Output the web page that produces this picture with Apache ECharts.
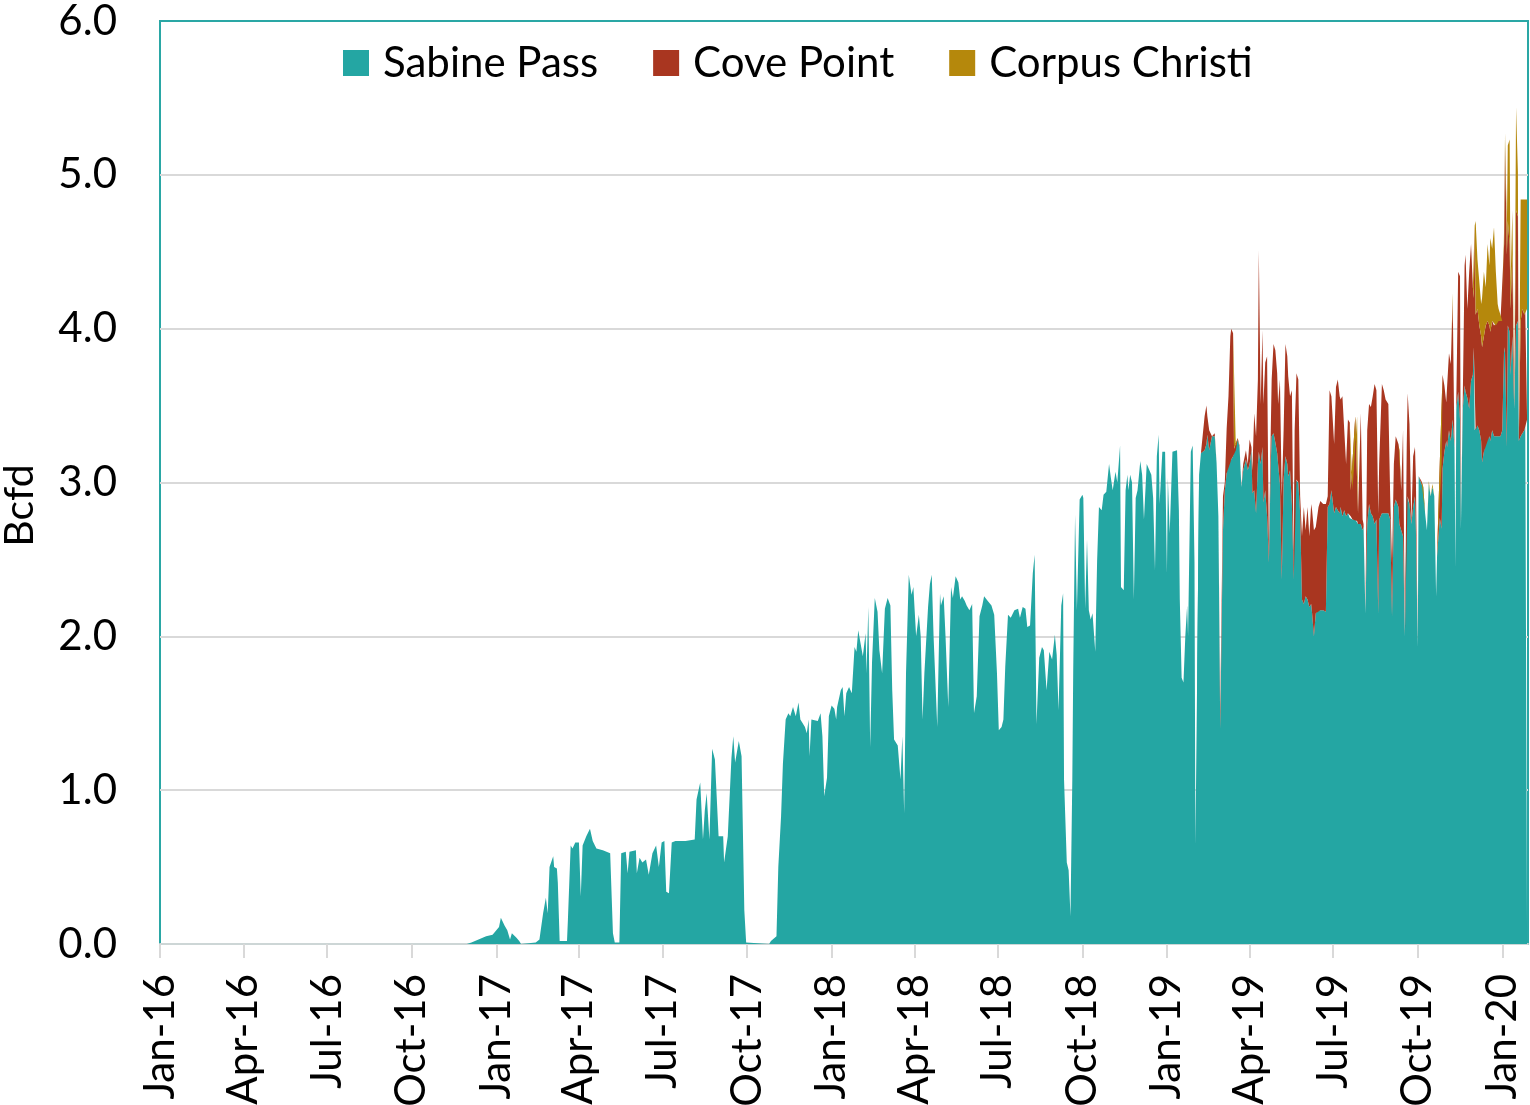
<!DOCTYPE html>
<html>
<head>
<meta charset="utf-8">
<script src="https://cdn.jsdelivr.net/npm/echarts@6/dist/echarts.min.js"></script>
<style>
html,body{margin:0;padding:0;background:#ffffff;}
#chart{width:1530px;height:1105px;}
</style>
</head>
<body>
<div id="chart"></div>
<script>
// ---------- tick labels (quarter starts) ----------
const tickLabels = ["Jan-16","Apr-16","Jul-16","Oct-16","Jan-17","Apr-17","Jul-17","Oct-17",
  "Jan-18","Apr-18","Jul-18","Oct-18","Jan-19","Apr-19","Jul-19","Oct-19","Jan-20"];

// ---------- Sabine Pass only period (Bcfd) ----------
const earlyDates = [
"2016-01-01","2016-11-30","2016-12-05","2016-12-21","2016-12-28","2017-01-04","2017-01-06","2017-01-10","2017-01-13","2017-01-16",
"2017-01-18","2017-01-23","2017-01-26","2017-01-28","2017-02-13","2017-02-17","2017-02-21","2017-02-24","2017-02-26","2017-02-28",
"2017-03-04","2017-03-05","2017-03-08","2017-03-09","2017-03-11","2017-03-19","2017-03-20","2017-03-23","2017-03-25","2017-03-28",
"2017-04-01","2017-04-03","2017-04-05","2017-04-09","2017-04-13","2017-04-16","2017-04-20","2017-04-27","2017-05-05","2017-05-08",
"2017-05-10","2017-05-15","2017-05-17","2017-05-22","2017-05-24","2017-05-26","2017-06-02","2017-06-03","2017-06-06","2017-06-09",
"2017-06-13","2017-06-16","2017-06-20","2017-06-24","2017-06-27","2017-06-30","2017-07-03","2017-07-05","2017-07-08","2017-07-11",
"2017-07-15","2017-07-26","2017-08-05","2017-08-07","2017-08-11","2017-08-14","2017-08-16","2017-08-18","2017-08-21","2017-08-24",
"2017-08-27","2017-08-29","2017-08-31","2017-09-05","2017-09-06","2017-09-10","2017-09-14","2017-09-16","2017-09-18","2017-09-22",
"2017-09-25","2017-09-28","2017-09-30","2017-10-02","2017-10-25","2017-10-27","2017-11-02","2017-11-04","2017-11-07","2017-11-09",
"2017-11-12","2017-11-15","2017-11-17","2017-11-20","2017-11-23","2017-11-26","2017-11-28","2017-12-03","2017-12-05","2017-12-07",
"2017-12-08","2017-12-10","2017-12-17","2017-12-20","2017-12-22","2017-12-24","2017-12-27","2017-12-29","2018-01-01","2018-01-04",
"2018-01-06","2018-01-07","2018-01-11","2018-01-13","2018-01-15","2018-01-17","2018-01-20","2018-01-23","2018-01-26","2018-01-28",
"2018-01-30","2018-02-04","2018-02-07","2018-02-08","2018-02-10","2018-02-12","2018-02-14","2018-02-17","2018-02-20","2018-02-22",
"2018-02-25","2018-02-28","2018-03-03","2018-03-06","2018-03-08","2018-03-10","2018-03-14","2018-03-17","2018-03-19","2018-03-21",
"2018-03-23","2018-03-26","2018-03-29","2018-03-31","2018-04-03","2018-04-06","2018-04-08","2018-04-10","2018-04-12","2018-04-16",
"2018-04-18","2018-04-20","2018-04-22","2018-04-26","2018-04-29","2018-04-30","2018-05-03","2018-05-05","2018-05-08","2018-05-11",
"2018-05-13","2018-05-16","2018-05-19","2018-05-21","2018-05-23","2018-05-26","2018-05-28","2018-05-31","2018-06-03","2018-06-05",
"2018-06-08","2018-06-11","2018-06-14","2018-06-16","2018-06-20","2018-06-24","2018-06-27","2018-06-30","2018-07-02","2018-07-05",
"2018-07-07","2018-07-09","2018-07-12","2018-07-15","2018-07-19","2018-07-23","2018-07-25","2018-07-28","2018-07-31","2018-08-02",
"2018-08-05","2018-08-08","2018-08-10","2018-08-12","2018-08-15","2018-08-18","2018-08-20","2018-08-23","2018-08-26","2018-08-29",
"2018-09-01","2018-09-03","2018-09-05","2018-09-08","2018-09-10","2018-09-11","2018-09-14","2018-09-16","2018-09-18","2018-09-20",
"2018-09-21","2018-09-23","2018-09-25","2018-09-28","2018-10-01","2018-10-02","2018-10-04","2018-10-06","2018-10-08","2018-10-10",
"2018-10-12","2018-10-15","2018-10-17","2018-10-19","2018-10-22","2018-10-24","2018-10-27","2018-10-30","2018-11-01","2018-11-03",
"2018-11-06","2018-11-08","2018-11-11","2018-11-12","2018-11-15","2018-11-17","2018-11-19","2018-11-20","2018-11-22","2018-11-24",
"2018-11-26","2018-11-28","2018-11-30","2018-12-03","2018-12-05","2018-12-07","2018-12-10","2018-12-12","2018-12-15","2018-12-17",
"2018-12-19","2018-12-21","2018-12-23","2018-12-24","2018-12-27","2018-12-30","2019-01-01","2019-01-02","2019-01-04","2019-01-07",
"2019-01-09","2019-01-12","2019-01-14","2019-01-15","2019-01-17","2019-01-19","2019-01-21","2019-01-23","2019-01-24","2019-01-27",
"2019-01-29","2019-01-31","2019-02-01","2019-02-03","2019-02-05"
];
const earlySabinePass = [
0,0,0.01,0.05,0.06,0.11,0.17,0.12,0.09,0.03,
0.07,0.04,0.02,0,0.01,0.03,0.20,0.30,0.20,0.50,
0.57,0.50,0.49,0.40,0.02,0.02,0.16,0.64,0.62,0.66,
0.66,0.31,0.64,0.70,0.75,0.67,0.62,0.61,0.59,0.07,
0.01,0.01,0.59,0.60,0.46,0.60,0.61,0.46,0.56,0.53,
0.55,0.45,0.59,0.64,0.50,0.66,0.67,0.34,0.33,0.66,
0.67,0.67,0.68,0.94,1.05,0.68,0.87,0.98,0.68,1.27,
1.20,1.20,0.70,0.70,0.53,0.70,1.21,1.35,1.18,1.32,
1.22,0.22,0.01,0,0,0.02,0.05,0.50,0.83,1.17,
1.46,1.50,1.48,1.54,1.48,1.57,1.46,1.41,1.37,1.46,
1.22,1.46,1.45,1.50,1.35,0.96,1.08,1.48,1.55,1.53,
1.46,1.54,1.65,1.67,1.48,1.63,1.67,1.63,1.93,1.90,
2.04,1.87,2.02,1.76,2.19,1.28,1.83,2.25,2.16,1.91,
1.76,2.18,2.25,2.20,1.65,1.33,1.29,1.07,1.35,0.85,
1.76,2.40,2.27,2.32,2.00,2.14,2.00,1.46,1.76,2.19,
2.34,2.40,2.00,1.41,2.28,2.20,2.26,2.00,1.54,2.32,
2.25,2.39,2.35,2.24,2.26,2.23,2.20,2.17,2.21,1.50,
1.61,2.13,2.20,2.26,2.23,2.20,2.14,1.76,1.39,1.41,
1.46,1.80,2.14,2.12,2.17,2.18,2.12,2.19,2.18,2.06,
2.07,2.41,2.53,1.43,1.86,1.93,1.91,1.65,1.90,1.85,
2.01,1.88,1.52,2.20,2.28,1.07,0.53,0.48,0.18,1.07,
1.78,2.79,2.17,2.89,2.92,2.90,2.18,2.63,2.17,2.11,
2.15,1.90,2.49,2.84,2.82,2.92,2.94,3.12,3.03,2.95,
3.07,3.00,3.24,2.32,2.30,2.95,3.05,2.95,3.05,3.00,
2.24,2.90,2.95,3.14,3.05,2.76,3.12,3.12,3.05,2.90,
2.43,3.17,3.31,2.86,3.20,3.20,2.41,3.03,2.67,3.20,
3.21,3.21,2.82,2.24,1.73,1.70,2.00,2.20,2.00,3.20,
3.24,2.48,0.65,1.80,3.05
];

// ---------- period with Cove Point and Corpus Christi (Bcfd) ----------
// (first entry repeats 2019-02-03 so both Sabine Pass pieces overlap by one step)
const lateDates = [
"2019-02-03",
"2019-02-05","2019-02-07","2019-02-11","2019-02-13","2019-02-14","2019-02-16","2019-02-19","2019-02-22","2019-02-24","2019-02-26",
"2019-02-28","2019-03-03","2019-03-05","2019-03-07","2019-03-09","2019-03-11","2019-03-12","2019-03-14","2019-03-15","2019-03-17",
"2019-03-19","2019-03-21","2019-03-23","2019-03-25","2019-03-28","2019-03-30","2019-04-01","2019-04-03","2019-04-04","2019-04-06",
"2019-04-08","2019-04-10","2019-04-11","2019-04-13","2019-04-15","2019-04-16","2019-04-18","2019-04-20","2019-04-22","2019-04-24",
"2019-04-25","2019-04-27","2019-04-29","2019-05-01","2019-05-02","2019-05-04","2019-05-06","2019-05-08","2019-05-10","2019-05-12",
"2019-05-13","2019-05-15","2019-05-17","2019-05-19","2019-05-20","2019-05-22","2019-05-24","2019-05-26","2019-05-28","2019-05-30",
"2019-06-01","2019-06-03","2019-06-05","2019-06-07","2019-06-08","2019-06-10","2019-06-12","2019-06-15","2019-06-17","2019-06-20",
"2019-06-23","2019-06-25","2019-06-27","2019-06-29","2019-07-02","2019-07-04","2019-07-06","2019-07-08","2019-07-09","2019-07-11",
"2019-07-13","2019-07-15","2019-07-17","2019-07-19","2019-07-20","2019-07-22","2019-07-25","2019-07-27","2019-07-28","2019-07-31",
"2019-08-02","2019-08-03","2019-08-05","2019-08-07","2019-08-09","2019-08-11","2019-08-13","2019-08-15","2019-08-17","2019-08-19",
"2019-08-20","2019-08-23","2019-08-25","2019-08-27","2019-08-30","2019-09-01","2019-09-03","2019-09-05","2019-09-07","2019-09-10",
"2019-09-11","2019-09-13","2019-09-15","2019-09-17","2019-09-19","2019-09-20","2019-09-22","2019-09-24","2019-09-26","2019-09-28",
"2019-09-29","2019-10-01","2019-10-02","2019-10-05","2019-10-07","2019-10-09","2019-10-11","2019-10-13","2019-10-15","2019-10-17",
"2019-10-19","2019-10-21","2019-10-22","2019-10-25","2019-10-27","2019-10-28","2019-10-30","2019-11-01","2019-11-02","2019-11-04",
"2019-11-06","2019-11-08","2019-11-10","2019-11-11","2019-11-12","2019-11-14","2019-11-16","2019-11-17","2019-11-19","2019-11-21",
"2019-11-22","2019-11-24","2019-11-26","2019-11-28","2019-11-30","2019-12-01","2019-12-02","2019-12-03","2019-12-05","2019-12-07",
"2019-12-09","2019-12-10","2019-12-12","2019-12-14","2019-12-16","2019-12-18","2019-12-19","2019-12-21","2019-12-23","2019-12-25",
"2019-12-27","2019-12-28","2019-12-30","2020-01-01","2020-01-03","2020-01-04","2020-01-06","2020-01-07","2020-01-09","2020-01-10",
"2020-01-12","2020-01-14","2020-01-16","2020-01-18","2020-01-19","2020-01-21","2020-01-23","2020-01-25","2020-01-26","2020-01-28"
];
const lateSabinePass = [
1.80,
3.05,3.19,3.21,3.25,3.31,3.21,3.30,3.30,3.13,2.78,
1.40,2.69,2.95,3.06,3.13,3.13,3.15,3.17,3.20,3.21,
3.28,3.23,2.97,3.08,3.15,3.08,3.12,3.21,2.93,2.95,
2.80,3.12,3.20,3.12,3.23,2.87,2.95,2.78,2.48,3.12,
3.30,3.32,3.26,3.19,3.12,2.99,2.37,3.02,3.17,3.12,
3.04,3.08,2.86,2.37,3.02,3.02,3.00,2.80,2.24,2.21,
2.26,2.24,2.19,2.21,2.15,2.00,2.15,2.17,2.17,2.17,
2.16,2.84,2.86,2.95,2.80,2.84,2.82,2.80,2.84,2.78,
2.82,2.78,2.80,2.77,2.78,2.76,2.76,2.75,2.73,2.73,
2.69,2.71,2.15,2.73,2.86,2.80,2.78,2.73,2.76,2.15,
2.76,2.80,2.80,2.80,2.80,2.76,2.13,2.84,2.89,2.84,
2.73,2.69,2.65,2.00,2.91,2.91,2.86,2.73,2.84,2.91,
2.69,1.93,3.04,2.99,2.97,2.80,2.69,2.99,2.91,2.97,
2.91,2.26,2.52,2.77,2.70,3.09,3.20,3.27,3.23,3.34,
3.27,3.41,3.23,2.45,3.48,3.59,3.41,2.70,3.48,3.63,
3.59,3.55,3.48,3.66,3.70,3.88,3.34,3.34,3.37,3.34,
3.27,3.13,3.20,3.27,3.27,3.30,3.27,3.34,3.30,3.29,
3.30,3.30,3.30,3.34,3.88,3.84,3.23,4.02,3.98,3.70,
3.95,3.48,4.02,4.05,3.27,3.30,3.32,3.34,3.41,3.41
];
const lateCovePoint = [
0,
0,0,0.22,0.25,0.12,0.13,0,0.02,0,0,
0.12,0.22,0.05,0.29,0.43,0.82,0.85,0.80,0.02,0.02,
0.01,0.01,0,0.04,0.06,0.04,0.16,0.02,0.15,0.50,
0.50,0.55,1.31,0.39,0.76,0.64,0.83,1.04,0.07,0.22,
0.37,0.58,0.60,0.52,0.39,0.68,0.54,0.32,0.73,0.70,
0.65,0.48,0.74,0.10,0.32,0.69,0.67,0.11,0.41,0.63,
0.43,0.60,0.46,0.65,0.67,0.69,0.56,0.67,0.71,0.69,
0.70,0.07,0.74,0.61,0.45,0.78,0.85,0.76,0.70,0.78,
0.52,0.34,0.61,0.62,0.17,0.19,0.67,0.68,0.07,0.72,
0.07,0.02,0,0.61,0.65,0.69,0.78,0.91,0.84,0.65,
0.36,0.84,0.80,0.74,0.71,0.15,0.34,0.28,0.41,0.41,
0.48,0.26,0.69,0,0.32,0.67,0.52,0,0.33,0.32,
0.33,0,0,0.02,0,0,0,0,0,0,
0,0,0,0.36,0.43,0.61,0.43,0.25,0.40,0.50,
0.50,0.77,0,0,0.07,0.78,0.93,0,0.07,0.78,
0.89,0.58,0.89,0.89,0.57,0.32,1.33,0.75,0.76,0.68,
0.68,0.75,0.75,0.75,0.78,0.72,0.71,0.71,0.72,0.73,
0.75,0.75,0.75,0.71,0.67,1.35,1.25,0.68,0.57,0.43,
0.53,0,0.75,0.68,0,0.75,0.81,0.75,0.72,0.72
];
const lateCorpusChristi = [
0,
0,0,0,0,0,0,0,0,0,0,
0,0,0,0,0,0,0,0,0,0,
0,0,0,0,0,0,0,0,0,0,
0,0,0,0,0,0,0,0,0,0,
0,0,0,0,0,0,0,0,0,0,
0,0,0,0,0,0,0,0,0,0,
0,0,0,0,0,0,0,0,0,0,
0,0,0,0,0,0,0,0,0,0,
0,0,0,0,0,0,0,0,0,0,
0,0,0,0,0,0,0,0,0,0,
0,0,0,0,0,0,0,0,0,0,
0.03,0,0,0,0,0,0,0,0,0,
0,0,0,0,0.03,0,0,0.02,0,0.02,
0,0,0,0,0,0,0,0,0,0,
0,0.05,0,0,0,0,0,0,0,0,
0,0,0,0,0,0.28,0,0.61,0.32,0.43,
0.21,0.32,0.42,0.25,0.50,0.39,0.61,0.47,0.64,0.35,
0.11,0.08,0.04,0,0.11,0.08,0.18,0.49,0.68,0.17,
0.29,0,0.67,0.29,0,0.79,0.71,0.75,0.71,0.71
];

// ---------- helpers ----------
const AXIS_START = "2016-01-01";
const AXIS_END = "2020-01-29";
const MONTHS = {Jan:0,Feb:1,Mar:2,Apr:3,May:4,Jun:5,Jul:6,Aug:7,Sep:8,Oct:9,Nov:10,Dec:11};
const T0 = Date.parse(AXIS_START + "T00:00:00Z");
function dayNum(s){ return (Date.parse(s + "T00:00:00Z") - T0) / 86400000; }
function labelDay(l){ const p = l.split('-'); return (Date.UTC(2000 + parseInt(p[1],10), MONTHS[p[0]], 1) - T0) / 86400000; }
const tickDays = tickLabels.map(labelDay);
const labelByDay = {};
tickLabels.forEach((l,i)=>{ labelByDay[tickDays[i]] = l; });
// items are [value, day]; encode maps day -> x, value -> y (so stacking acts on the values)
function pairs(dates, vals){ return dates.map((d,i)=>[vals[i], dayNum(d)]); }

const FONT = "Lato, 'Open Sans', sans-serif";
const C_SABINE = '#24a6a3', C_COVE = '#a93620', C_CORPUS = '#b5880c';

function areaSeries(name, color, data, stack){
  const s = {
    name: name, type: 'line', data: data, encode: {x: 1, y: 0},
    symbol: 'none', showSymbol: false,
    lineStyle: {width: 0}, itemStyle: {color: color},
    areaStyle: {color: color, opacity: 1}, emphasis: {disabled: true}
  };
  if (stack) s.stack = stack;
  return s;
}

const chart = echarts.init(document.getElementById('chart'), null, {renderer: 'canvas'});
chart.setOption({
  animation: false,
  backgroundColor: '#ffffff',
  textStyle: {fontFamily: FONT},
  grid: {left: 160, right: 2, top: 21, bottom: 161, show: true, containLabel: false, outerBoundsMode: 'none',
         borderColor: '#2aa7a5', borderWidth: 2, backgroundColor: 'transparent'},
  legend: {
    left: 343, top: 42, padding: 0, itemWidth: 26, itemHeight: 26, itemGap: 55, icon: 'rect',
    data: ['Sabine Pass','Cove Point','Corpus Christi'],
    textStyle: {fontSize: 42, color: '#000', fontFamily: FONT, padding: [0,0,0,9]}
  },
  xAxis: {
    type: 'value', min: 0, max: dayNum(AXIS_END),
    axisLine: {show: true, lineStyle: {color: '#cdd6d6', width: 2}},
    axisTick: {show: true, customValues: tickDays, length: 14, lineStyle: {color: '#d9d9d9', width: 2}},
    axisLabel: {customValues: tickDays, rotate: 90, margin: 30, fontSize: 42, color: '#000', fontFamily: FONT,
      formatter: v => labelByDay[v] || ''},
    splitLine: {show: false}
  },
  yAxis: {
    type: 'value', min: 0, max: 6, interval: 1,
    name: 'Bcfd', nameLocation: 'middle', nameGap: 120,
    nameTextStyle: {fontSize: 41, color: '#000', fontFamily: FONT, padding: [0,46,0,0]},
    axisLine: {show: false}, axisTick: {show: false},
    axisLabel: {formatter: v => v.toFixed(1), fontSize: 42, color: '#000', margin: 43, fontFamily: FONT},
    splitLine: {showMinLine: false, showMaxLine: false, lineStyle: {color: '#d9d9d9', width: 2}}
  },
  series: [
    areaSeries('Sabine Pass', C_SABINE, pairs(earlyDates, earlySabinePass)),
    areaSeries('Sabine Pass', C_SABINE, pairs(lateDates, lateSabinePass), 'late'),
    areaSeries('Cove Point', C_COVE, pairs(lateDates, lateCovePoint), 'late'),
    areaSeries('Corpus Christi', C_CORPUS, pairs(lateDates, lateCorpusChristi), 'late')
  ]
});
</script>
</body>
</html>
